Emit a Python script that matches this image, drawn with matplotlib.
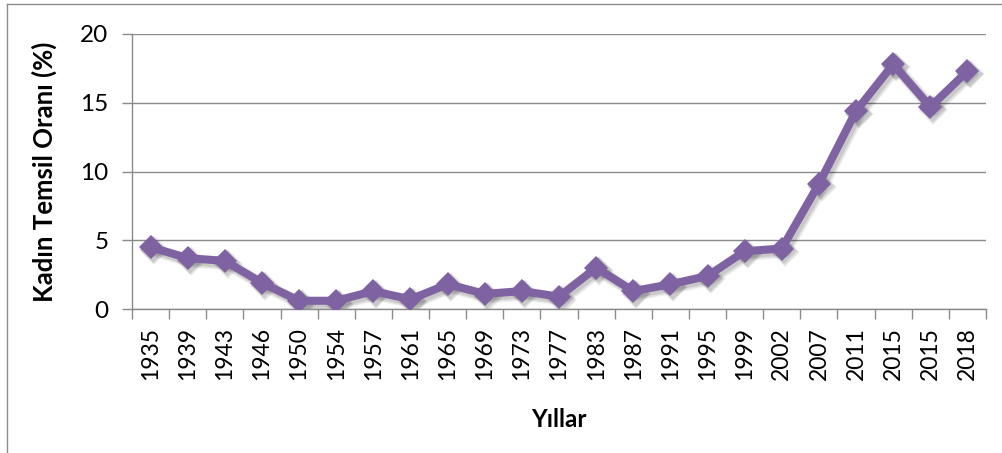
import numpy as np
import matplotlib
matplotlib.use("Agg")
import matplotlib.pyplot as plt
from matplotlib.lines import Line2D
from matplotlib.transforms import offset_copy

plt.rcParams['font.family'] = ['Lato', 'DejaVu Sans']

# ── data ──────────────────────────────────────────────────────────────────────
years = ['1935', '1939', '1943', '1946', '1950', '1954', '1957', '1961',
         '1965', '1969', '1973', '1977', '1983', '1987', '1991', '1995',
         '1999', '2002', '2007', '2011', '2015', '2015', '2018']
women_pct = [4.5, 3.7, 3.5, 1.9, 0.6, 0.6, 1.3, 0.7,
             1.8, 1.1, 1.3, 0.9, 3.0, 1.3, 1.8, 2.4,
             4.2, 4.4, 9.1, 14.4, 17.8, 14.7, 17.3]
y_ticks = [0, 5, 10, 15, 20]

LINE_COLOR = '#7f62a1'
AXIS_GRAY = '#8a8a8a'

W, H = 1003, 453
fig = plt.figure(figsize=(W / 100, H / 100), dpi=100)
ax = fig.add_axes([132 / W, 1 - 309 / H, (986 - 132) / W, (309 - 34) / H])

x = np.arange(len(years))

# soft drop shadow: a few offset layers with low alpha
for dx, dy, lw, ms, a in [(3, -3, 9.5, 15.5, 0.05), (3, -3, 8, 14, 0.07),
                          (2.5, -2.5, 6.5, 13, 0.10)]:
    tr = offset_copy(ax.transData, fig=fig, x=dx, y=dy, units='dots')
    ax.plot(x, women_pct, color='black', alpha=a, linewidth=lw, marker='D',
            markersize=ms, markeredgewidth=0, transform=tr, zorder=2,
            solid_joinstyle='round')

ax.plot(x, women_pct, color=LINE_COLOR, linewidth=5.8, marker='D',
        markersize=12.5, markerfacecolor=LINE_COLOR, markeredgewidth=0,
        solid_joinstyle='round', zorder=3)

ax.set_xlim(-0.5, len(years) - 0.5)
ax.set_ylim(0, 20)
ax.set_yticks(y_ticks)
ax.yaxis.grid(True, color=AXIS_GRAY, linewidth=1.0)
ax.set_axisbelow(True)

# category boundaries as major ticks, labels centred on categories
ax.set_xticks(np.arange(len(years) + 1) - 0.5)
ax.set_xticklabels([])
ax.set_xticks(x, minor=True)
ax.set_xticklabels(years, minor=True, rotation=90, fontsize=16.5)
ax.tick_params(axis='x', which='major', length=7, width=1, color=AXIS_GRAY,
               direction='out')
ax.tick_params(axis='x', which='minor', length=0, pad=13)
ax.tick_params(axis='y', length=7, width=1, color=AXIS_GRAY, direction='out',
               labelsize=17.5, pad=10)

for side in ('top', 'right'):
    ax.spines[side].set_visible(False)
for side in ('left', 'bottom'):
    ax.spines[side].set_color(AXIS_GRAY)
    ax.spines[side].set_linewidth(1.0)

ax.set_ylabel('Kadın Temsil Oranı (%)', fontsize=18.5, fontweight='bold')
ax.yaxis.set_label_coords((57 - 132) / (986 - 132), 0.5)
ax.set_xlabel('Yıllar', fontsize=17.5, fontweight='bold')
ax.xaxis.set_label_coords(0.5, (309 - 408) / (309 - 34))

# chart-area border (left and top edges visible)
fig.add_artist(Line2D([7 / W, 7 / W], [0, 1 - 4 / H], transform=fig.transFigure,
                      color=AXIS_GRAY, linewidth=1.0))
fig.add_artist(Line2D([7 / W, 1], [1 - 4 / H, 1 - 4 / H], transform=fig.transFigure,
                      color=AXIS_GRAY, linewidth=1.0))

fig.savefig('out.png', dpi=100)
